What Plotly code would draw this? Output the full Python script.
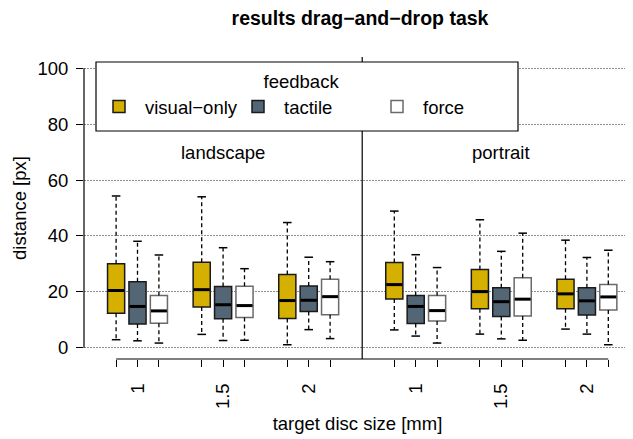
import plotly.graph_objects as go

# ---------------- data ----------------
panels = ["landscape", "portrait"]
sizes = ["1", "1.5", "2"]
feedback = ["visual−only", "tactile", "force"]

# order: landscape 1, 1.5, 2, portrait 1, 1.5, 2
visual_low = [2.9, 4.8, 1.1, 6.4, 4.9, 6.7]
visual_q1 = [12.4, 14.6, 10.5, 17.5, 14.0, 14.0]
visual_med = [20.5, 20.8, 16.9, 22.6, 20.1, 19.3]
visual_q3 = [30.1, 30.6, 26.2, 30.5, 28.0, 24.5]
visual_up = [54.3, 54.0, 44.8, 48.9, 45.8, 38.5]

tactile_low = [2.5, 2.6, 6.5, 4.2, 3.2, 4.9]
tactile_q1 = [8.5, 10.4, 13.0, 8.7, 11.2, 11.7]
tactile_med = [14.8, 15.4, 17.0, 14.8, 16.5, 16.8]
tactile_q3 = [23.6, 21.9, 22.1, 18.7, 21.5, 21.5]
tactile_up = [38.1, 35.8, 32.4, 33.3, 34.5, 32.3]

force_low = [1.7, 2.7, 3.3, 1.7, 2.7, 1.1]
force_q1 = [8.8, 10.8, 11.8, 9.6, 11.4, 13.5]
force_med = [13.2, 15.1, 18.3, 13.3, 17.4, 18.2]
force_q3 = [18.7, 22.0, 24.5, 18.7, 25.1, 22.6]
force_up = [33.2, 28.3, 30.8, 28.7, 41.0, 34.9]

y_ticks = [0, 20, 40, 60, 80, 100]

# ---------------- styling ----------------
FONT = "Liberation Sans, Arial, Helvetica, sans-serif"
FS = 18.5
fills = ["#D5B000", "#536676", "#FFFFFF"]
borders = ["#1a1a1a", "#1a1a1a", "#6a6a6a"]
BOXW = 0.8
CAPW = 0.4

series = [
    (visual_low, visual_q1, visual_med, visual_q3, visual_up),
    (tactile_low, tactile_q1, tactile_med, tactile_q3, tactile_up),
    (force_low, force_q1, force_med, force_q3, force_up),
]

def pos(group, f):
    panel, s = divmod(group, 3)
    return 1 + panel * 13 + s * 4 + f

fig = go.Figure()

for f, (low, q1, med, q3, up) in enumerate(series):
    xs = [pos(g, f) for g in range(6)]
    fig.add_trace(go.Box(
        x=xs, q1=q1, median=med, q3=q3, lowerfence=q1, upperfence=q3,
        name=feedback[f], legendgroup=feedback[f],
        fillcolor=fills[f], line=dict(color=borders[f], width=1.5),
        width=BOXW, boxpoints=False, hoverinfo="skip",
    ))
    wx, wy, cx, cy, mx, my = [], [], [], [], [], []
    for g in range(6):
        x = xs[g]
        wx += [x, x, None, x, x, None]
        wy += [q3[g], up[g], None, q1[g], low[g], None]
        cx += [x - CAPW / 2, x + CAPW / 2, None, x - CAPW / 2, x + CAPW / 2, None]
        cy += [up[g], up[g], None, low[g], low[g], None]
        mx += [x - BOXW / 2 + 0.03, x + BOXW / 2 - 0.03, None]
        my += [med[g], med[g], None]
    fig.add_trace(go.Scatter(x=wx, y=wy, mode="lines", legendgroup=feedback[f],
                             showlegend=False, hoverinfo="skip",
                             line=dict(color="black", width=1.3, dash="4px,3px")))
    fig.add_trace(go.Scatter(x=cx, y=cy, mode="lines", legendgroup=feedback[f],
                             showlegend=False, hoverinfo="skip",
                             line=dict(color="black", width=1.5)))
    fig.add_trace(go.Scatter(x=mx, y=my, mode="lines", legendgroup=feedback[f],
                             showlegend=False, hoverinfo="skip",
                             line=dict(color="black", width=3)))

tickvals = [pos(g, f) for g in range(6) for f in range(3)]
ticktext = [sizes[g % 3] if f == 1 else "" for g in range(6) for f in range(3)]
first, last = min(tickvals), max(tickvals)
divider = (pos(2, 2) + pos(3, 0)) / 2

# geometry: the page adds an 8px body margin, so the figure is 8px smaller
OFF = 8
W, H = 633 - OFF, 439 - OFF
# plot area in reference-page pixels
PL, PR, PT, PB = 84, 631, 57, 359
L, T = PL - OFF, PT - OFF
R = W - (PR - OFF)
B = H - (PB - OFF)
pw, ph = PR - PL, PB - PT

def px2paper_x(p):
    return (p - PL) / pw

def px2paper_y(p):
    return (PB - p) / ph

shapes = [
    dict(type="line", xref="paper", yref="y", x0=0, x1=0, y0=y_ticks[0], y1=y_ticks[-1],
         line=dict(color="black", width=1.2), layer="above"),
    dict(type="line", xref="x", yref="paper", x0=first, x1=last, y0=0, y1=0,
         line=dict(color="black", width=1.2), layer="above"),
    dict(type="line", xref="x", yref="paper", x0=divider, x1=divider, y0=0, y1=1,
         line=dict(color="black", width=1.2), layer="above"),
    dict(type="rect", xref="paper", yref="paper",
         x0=px2paper_x(96), x1=px2paper_x(518), y0=px2paper_y(131), y1=px2paper_y(62),
         line=dict(color="black", width=1.2), fillcolor="white", layer="above"),
]

annotations = [
    dict(x=6, y=70, xref="x", yref="y", text=panels[0], showarrow=False,
         font=dict(family=FONT, size=FS, color="black")),
    dict(x=19, y=70, xref="x", yref="y", text=panels[1], showarrow=False,
         font=dict(family=FONT, size=FS, color="black")),
]

fig.update_layout(
    width=W, height=H,
    margin=dict(l=L, r=R, t=T, b=B, autoexpand=False),
    plot_bgcolor="white", paper_bgcolor="white",
    font=dict(family=FONT, size=FS, color="black"),
    boxmode="overlay",
    title=dict(text="<b>results drag−and−drop task</b>", x=px2paper_x(360), xref="paper",
               xanchor="center", y=1 - (18 - OFF) / H, yref="container", yanchor="middle",
               font=dict(family=FONT, size=19.5, color="black")),
    xaxis=dict(range=[-0.5, -0.5 + pw / 21.4], tickmode="array", tickvals=tickvals,
               ticktext=ticktext, tickangle=-90, ticks="outside", ticklen=7,
               tickwidth=1.2, tickcolor="black", showgrid=False, showline=False,
               zeroline=False, tickfont=dict(size=FS), ticklabelstandoff=9,
               title=dict(text="target disc size [mm]", standoff=8, font=dict(size=FS))),
    yaxis=dict(range=[-4, 104], tickmode="array", tickvals=y_ticks, ticks="outside",
               ticklen=7, tickwidth=1.2, tickcolor="black", showline=False,
               zeroline=False, showgrid=True, gridcolor="#8c8c8c", gridwidth=1,
               griddash="1.5px,1.5px", tickfont=dict(size=FS), ticklabelstandoff=4,
               title=dict(text="distance [px]", standoff=5, font=dict(size=FS))),
    legend=dict(orientation="h", x=px2paper_x(93), y=px2paper_y(64), xanchor="left",
                yanchor="top", xref="paper", yref="paper",
                bgcolor="rgba(0,0,0,0)", borderwidth=0, itemwidth=42,
                title=dict(text="feedback", side="top center", font=dict(size=FS)),
                font=dict(size=FS), entrywidth=82, entrywidthmode="pixels"),
    shapes=shapes,
    annotations=annotations,
    showlegend=True,
)

fig.write_html("out.html")
